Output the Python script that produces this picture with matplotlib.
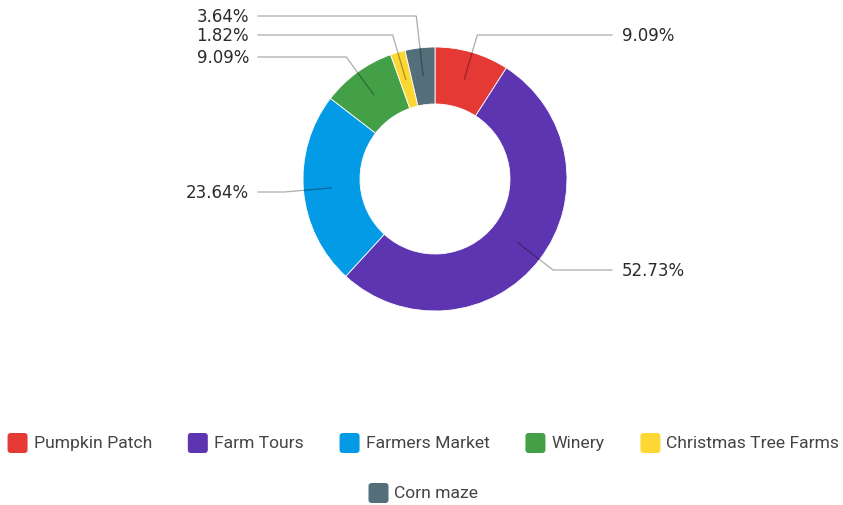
import numpy as np
import matplotlib.pyplot as plt
from matplotlib.patches import Wedge, FancyBboxPatch

plt.rcParams['font.family'] = ['Roboto', 'DejaVu Sans']

# Share of visits by attraction type
categories = ["Pumpkin Patch", "Farm Tours", "Farmers Market", "Winery",
              "Christmas Tree Farms", "Corn maze"]
shares = [9.09, 52.73, 23.64, 9.09, 1.82, 3.64]
colors = ["#E53935", "#5E35B1", "#039BE5", "#43A047", "#FDD835", "#546E7A"]

W, H = 843, 506
fig = plt.figure(figsize=(W / 100, H / 100), dpi=100)
ax = fig.add_axes([0, 0, 1, 1])
ax.set_xlim(0, W)
ax.set_ylim(0, H)
ax.axis("off")

# donut geometry in pixels
cx, cy = 435, H - 180
r_out, r_in = 132, 75
r_mid = 104

# label rows (image y) for each slice, stacked to keep small slices apart
label_y = [36, 271, 193, 58, 36, 17]
line_end = {1: 612, -1: 258}
text_x = {1: 622, -1: 249}

total = sum(shares)
start = 90.0
for cat, val, col, ly in zip(categories, shares, colors, label_y):
    sweep = val / total * 360
    ax.add_patch(Wedge((cx, cy), r_out, start - sweep, start,
                       width=r_out - r_in, facecolor=col, edgecolor="white",
                       linewidth=0.6))
    mid = np.deg2rad(start - sweep / 2)
    x0, y0 = cx + r_mid * np.cos(mid), cy + r_mid * np.sin(mid)
    ey = H - ly
    # elbow where the radial line meets the label row
    t = (ey - cy) / np.sin(mid)
    ex = cx + t * np.cos(mid)
    side = 1 if np.cos(mid) > 0 else -1
    ax.plot([x0, ex, line_end[side]], [y0, ey, ey], color="black",
            alpha=0.33, lw=0.9, solid_joinstyle="miter")
    ax.text(text_x[side], ey, f"{val:.2f}%", ha="left" if side > 0 else "right",
            va="center", fontsize=12, color="#2b2b2b", family="DejaVu Sans")
    start -= sweep

# legend drawn as two centred rows
fig.canvas.draw()
renderer = fig.canvas.get_renderer()
rows = [(categories[:5], colors[:5], 444), (categories[5:], colors[5:], 494)]
box, pad, gap = 20, 6, 36
fs = 12.6
for names, cols, ry in rows:
    widths = []
    for n in names:
        tt = ax.text(0, 0, n, fontsize=fs)
        widths.append(tt.get_window_extent(renderer).width)
        tt.remove()
    total_w = sum(box + pad + w for w in widths) + gap * (len(names) - 1)
    x = W / 2 - total_w / 2 + 2
    for n, c, w in zip(names, cols, widths):
        ax.add_patch(FancyBboxPatch((x + 3, H - ry - box / 2 + 3), box - 6, box - 6,
                                    boxstyle="round,pad=3", facecolor=c,
                                    edgecolor="none"))
        ax.text(x + box + pad, H - ry, n, fontsize=fs, va="center",
                color="#444444")
        x += box + pad + w + gap

fig.savefig("out.png", dpi=100)
